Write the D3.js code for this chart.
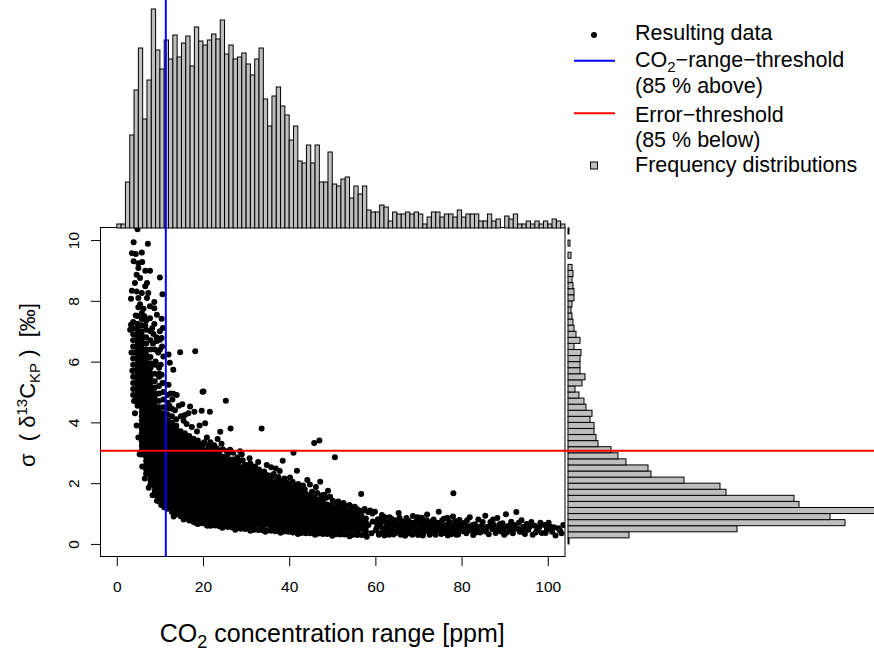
<!DOCTYPE html>
<html>
<head>
<meta charset="utf-8">
<script src="https://cdn.jsdelivr.net/npm/d3@7"></script>
<style>
  body { margin: 0; background: #fff; }
  svg { display: block; font-family: "Liberation Sans", Arial, Helvetica, sans-serif; }
</style>
</head>
<body>
<svg id="chart" width="874" height="651"></svg>
<script>
// frequency of CO2 ranges, 1 ppm bins starting at 0
const co2Counts = [4,4,46,93,138,180,109,148,219,178,159,188,169,193,171,185,192,162,201,187,
  183,188,194,189,208,174,183,169,171,175,164,153,169,180,129,102,132,141,122,113,
  88,102,67,65,83,65,83,46,46,76,44,42,49,51,30,42,34,42,18,16,
  16,23,21,7,16,14,14,16,14,16,14,4,11,16,16,11,14,14,11,18,
  11,14,14,14,7,7,14,7,9,0,12,9,14,4,4,7,4,7,4,7,4,9,7,4];
const co2BinWidth = 1;

// frequency of sigma values, 0.2 permil bins starting at 0
const sigmaCounts = [1,61,169,277,262,330,231,226,158,152,116,83,80,58,50,43,30,28,26,26,
  22,24,18,16,11,7,14,17,12,12,12,13,6,12,8,6,5,4,3,4,6,6,5,4,5,4,0,3,0,2,0,1];
const sigmaBinWidth = 0.2;

const co2Threshold = 11.37;
const errorThreshold = 3.07;

const xTicks = [0, 20, 40, 60, 80, 100];
const yTicks = [0, 2, 4, 6, 8, 10];

// dense part of the cloud, read column by column: [co2 range, [sigma values]]
const denseColumns = [
  [3.8, [4.9,5.1,5.3,5.5,5.7,5.9,6.1,6.3,6.5,6.7,6.9,7.1,7.3]],
  [4.8, [4.55,4.69,4.83,4.97,5.11,5.25,5.39,5.53,5.67,5.81,5.95,6.09,6.23,6.37,6.51,6.65,6.79,6.93,7.07,7.25,7.5]],
  [5.8, [2.94,3.08,3.22,3.36,3.50,3.64,3.78,3.92,4.06,4.20,4.34,4.48,4.62,4.76,4.90,5.04,5.18,5.32,5.46,5.60,5.74,5.88,6.02,6.16,6.30,6.44,6.58,6.72,6.86,7.0,7.2,7.4,7.6]],
  [6.8, [2.31,2.45,2.59,2.73,2.87,3.01,3.15,3.29,3.43,3.57,3.71,3.85,3.99,4.13,4.27,4.41,4.55,4.69,4.83,4.97,5.11,5.25,5.39,5.53,5.67,5.81,5.95,6.09,6.23,6.4,6.6,6.8,7.05,7.35]],
  [7.8, [1.96,2.10,2.24,2.38,2.52,2.66,2.80,2.94,3.08,3.22,3.36,3.50,3.64,3.78,3.92,4.06,4.20,4.34,4.48,4.62,4.76,4.90,5.04,5.18,5.32,5.46,5.60,5.78,5.95,6.15,6.4,6.7,7.0]],
  [8.8, [1.61,1.75,1.89,2.03,2.17,2.31,2.45,2.59,2.73,2.87,3.01,3.15,3.29,3.43,3.57,3.71,3.85,3.99,4.13,4.27,4.41,4.55,4.69,4.83,4.97,5.15,5.35,5.6,5.9,6.4]],
  [9.8, [1.40,1.54,1.68,1.82,1.96,2.10,2.24,2.38,2.52,2.66,2.80,2.94,3.08,3.22,3.36,3.50,3.64,3.78,3.92,4.06,4.20,4.34,4.5,4.7,4.95,5.2,5.5,5.8]],
  [10.8, [1.33,1.47,1.61,1.75,1.89,2.03,2.17,2.31,2.45,2.59,2.73,2.87,3.01,3.15,3.29,3.43,3.57,3.71,3.85,3.99,4.13,4.3,4.5,4.75,5.0,5.3]],
  [11.8, [1.16,1.26,1.40,1.54,1.68,1.82,1.96,2.10,2.24,2.38,2.52,2.66,2.80,2.94,3.08,3.22,3.36,3.50,3.64,3.78,3.92,4.06,4.25,4.45,4.65,4.9]],
  [12.8, [1.05,1.19,1.33,1.47,1.61,1.75,1.89,2.03,2.17,2.31,2.45,2.59,2.73,2.87,3.01,3.15,3.29,3.43,3.57,3.71,3.85,4.0,4.2,4.45]],
  [13.8, [0.98,1.12,1.26,1.40,1.54,1.68,1.82,1.96,2.10,2.24,2.38,2.52,2.66,2.80,2.94,3.08,3.22,3.36,3.50,3.64,3.78,3.9,4.1]],
  [14.8, [0.91,1.05,1.19,1.33,1.47,1.61,1.75,1.89,2.03,2.17,2.31,2.45,2.59,2.73,2.87,3.01,3.15,3.29,3.43,3.57,3.71]],
  [15.8, [0.84,0.98,1.12,1.26,1.40,1.54,1.68,1.82,1.96,2.10,2.24,2.38,2.52,2.66,2.80,2.94,3.08,3.22,3.36,3.50,3.64]],
  [16.8, [0.77,0.91,1.05,1.19,1.33,1.47,1.61,1.75,1.89,2.03,2.17,2.31,2.45,2.59,2.73,2.87,3.01,3.15,3.29,3.43,3.55]],
  [17.8, [0.72,0.84,0.98,1.12,1.26,1.40,1.54,1.68,1.82,1.96,2.10,2.24,2.38,2.52,2.66,2.80,2.94,3.08,3.22,3.36,3.46]],
  [18.8, [0.66,0.77,0.91,1.05,1.19,1.33,1.47,1.61,1.75,1.89,2.03,2.17,2.31,2.45,2.59,2.73,2.87,3.01,3.15,3.29,3.40]],
  [19.8, [0.68,0.84,0.98,1.12,1.26,1.40,1.54,1.68,1.82,1.96,2.10,2.24,2.38,2.52,2.66,2.80,2.94,3.08,3.22,3.30]],
  [20.8, [0.63,0.77,0.91,1.05,1.19,1.33,1.47,1.61,1.75,1.89,2.03,2.17,2.31,2.45,2.59,2.73,2.87,3.01,3.08]],
  [21.8, [0.60,0.70,0.84,0.98,1.12,1.26,1.40,1.54,1.68,1.82,1.96,2.10,2.24,2.38,2.52,2.66,2.80,2.94,3.02]],
  [22.8, [0.61,0.77,0.91,1.05,1.19,1.33,1.47,1.61,1.75,1.89,2.03,2.17,2.31,2.45,2.59,2.73,2.87,2.96]],
  [23.8, [0.58,0.70,0.84,0.98,1.12,1.26,1.40,1.54,1.68,1.82,1.96,2.10,2.24,2.38,2.52,2.66,2.80,2.92]],
  [24.8, [0.57,0.66,0.77,0.91,1.05,1.19,1.33,1.47,1.61,1.75,1.89,2.03,2.17,2.31,2.45,2.59,2.73,2.87]],
  [25.8, [0.56,0.70,0.84,0.98,1.12,1.26,1.40,1.54,1.68,1.82,1.96,2.10,2.24,2.38,2.52,2.66,2.80]],
  [26.8, [0.54,0.63,0.77,0.91,1.05,1.19,1.33,1.47,1.61,1.75,1.89,2.03,2.17,2.31,2.45,2.59,2.73,2.78]],
  [27.8, [0.52,0.62,0.70,0.84,0.98,1.12,1.26,1.40,1.54,1.68,1.82,1.96,2.10,2.24,2.38,2.52,2.60]],
  [28.8, [0.50,0.63,0.77,0.91,1.05,1.19,1.33,1.47,1.61,1.75,1.89,2.03,2.17,2.31,2.45,2.52]],
  [29.8, [0.49,0.56,0.70,0.84,0.98,1.12,1.26,1.40,1.54,1.68,1.82,1.96,2.10,2.24,2.38,2.44]],
  [30.8, [0.48,0.63,0.77,0.91,1.05,1.19,1.33,1.47,1.61,1.75,1.89,2.03,2.17,2.31,2.38]],
  [31.8, [0.47,0.56,0.70,0.84,0.98,1.12,1.26,1.40,1.54,1.68,1.82,1.96,2.10,2.24,2.30]],
  [32.8, [0.46,0.63,0.77,0.91,1.05,1.19,1.33,1.47,1.61,1.75,1.89,2.03,2.17,2.24]],
  [33.8, [0.45,0.56,0.70,0.84,0.98,1.12,1.26,1.40,1.54,1.68,1.82,1.96,2.10,2.18]],
  [34.8, [0.44,0.63,0.77,0.91,1.05,1.19,1.33,1.47,1.61,1.75,1.89,2.03,2.12]],
  [35.8, [0.43,0.56,0.70,0.84,0.98,1.12,1.26,1.40,1.54,1.68,1.82,1.96,2.06]],
  [36.8, [0.42,0.49,0.63,0.77,0.91,1.05,1.19,1.33,1.47,1.61,1.75,1.89,2.00]],
  [37.8, [0.42,0.56,0.70,0.84,0.98,1.12,1.26,1.40,1.54,1.68,1.82,1.96]],
  [38.8, [0.41,0.49,0.63,0.77,0.91,1.05,1.19,1.33,1.47,1.61,1.75,1.89]],
  [39.8, [0.40,0.56,0.70,0.84,0.98,1.12,1.26,1.40,1.54,1.68,1.82,1.88]],
  [40.8, [0.38,0.49,0.63,0.77,0.91,1.05,1.19,1.33,1.47,1.61,1.75,1.84]],
  [41.8, [0.37,0.42,0.56,0.70,0.84,0.98,1.12,1.26,1.40,1.54,1.68,1.78]],
  [42.8, [0.36,0.49,0.63,0.77,0.91,1.05,1.19,1.33,1.47,1.61,1.72]],
  [43.8, [0.35,0.42,0.56,0.70,0.84,0.98,1.12,1.26,1.40,1.54,1.66]],
  [44.8, [0.35,0.49,0.63,0.77,0.91,1.05,1.19,1.33,1.47,1.61]],
  [45.8, [0.34,0.42,0.56,0.70,0.84,0.98,1.12,1.26,1.40,1.54]],
  [46.8, [0.34,0.49,0.63,0.77,0.91,1.05,1.19,1.33,1.47]],
  [47.8, [0.33,0.42,0.56,0.70,0.84,0.98,1.12,1.26,1.40,1.46]],
  [48.8, [0.33,0.49,0.63,0.77,0.91,1.05,1.19,1.30]],
  [49.8, [0.32,0.42,0.56,0.70,0.84,0.98,1.12,1.26]],
  [50.8, [0.32,0.49,0.63,0.77,0.91,1.05,1.19]],
  [51.8, [0.31,0.42,0.56,0.70,0.84,0.98,1.12,1.18]],
  [52.8, [0.31,0.49,0.63,0.77,0.91,1.05,1.13]],
  [53.8, [0.30,0.42,0.56,0.70,0.84,0.98,1.08]],
  [54.8, [0.30,0.49,0.63,0.77,0.91,1.04]],
  [55.8, [0.29,0.42,0.56,0.70,0.84,0.98]],
  [56.8, [0.29,0.49,0.63,0.77,0.91]],
  [57.8, [0.28,0.42,0.56,0.70,0.84]]
];

// single points around the dense cloud: [co2 range, sigma]
const loosePoints = [
  [4.8,10.36],[3.9,9.93],[7.2,9.88],[3.5,9.57],[4.4,9.54],[5.8,9.59],[3.9,9.30],[5.0,9.24],[5.9,9.28],
  [5.0,9.08],[6.6,8.99],[7.7,8.99],[4.6,8.86],[5.4,8.75],[10.0,8.77],[4.2,8.59],[7.0,8.59],[6.6,8.48],
  [3.5,8.33],[4.6,8.31],[5.8,8.26],[7.3,8.26],[10.6,8.22],[3.3,8.07],[5.0,8.09],[7.0,8.09],[5.4,7.89],
  [8.7,7.96],[5.0,7.79],[6.2,7.74],[7.7,7.82],[8.7,7.76],[4.4,7.52],[6.4,7.49],[7.7,7.43],[9.3,7.54],
  [10.4,7.41],[3.3,7.21],[5.0,7.21],[6.6,7.19],[8.7,7.24],[3.1,7.05],[10.7,7.11],[8.5,6.91],[10.0,6.72],
  [9.3,6.68],[9.0,6.0],[9.6,6.3],[10.2,5.9],[10.5,6.5],[9.2,6.8],[10.0,7.0],[8.4,6.6],[9.9,5.6],
  [10.6,5.3],[8.2,7.1],[10.4,6.78],[10.0,6.39],[10.8,6.17],[10.4,5.57],[3.4,6.3],[3.6,5.7],[4.0,4.7],
  [4.2,4.3],[12.0,5.24],[12.0,6.23],[13.1,5.73],[12.3,5.96],[14.7,6.31],[18.2,6.34],[20.1,5.02],[13.1,4.94],
  [12.2,4.55],[12.9,4.75],[13.5,4.4],[12.5,4.95],[13.9,4.9],[14.4,4.55],[14.9,4.2],[15.5,4.05],[15.2,4.6],
  [16.2,3.95],[16.6,4.3],[17.0,4.52],[18.0,4.35],[19.7,4.38],[21.6,4.35],[15.8,4.24],[20.5,3.97],[17.4,3.85],
  [18.6,3.7],[19.2,3.9],[20.9,3.5],[21.7,3.35],[22.6,3.25],[23.4,3.45],[24.0,3.69],[26.4,3.80],[33.6,3.80],
  [25.3,4.71],[19.9,5.01],[23.2,3.15],[24.6,3.12],[25.5,3.05],[27.0,3.0],[28.0,2.85],[29.2,2.75],[30.2,2.6],
  [31.0,2.65],[32.1,2.55],[33.0,2.45],[34.2,2.38],[35.8,2.52],[36.4,2.3],[37.5,2.2],[38.5,2.74],[38.9,2.15],
  [40.2,2.19],[41.0,3.0],[41.8,2.41],[42.1,1.97],[43.2,1.92],[44.8,1.96],[45.8,3.32],[46.2,1.87],[47.0,3.40],
  [47.2,2.05],[48.2,1.62],[49.5,1.55],[50.6,2.85],[51.4,1.4],[52.6,1.35],[54.0,1.28],[55.2,1.22],[56.7,1.64],
  [57.5,1.15],[58.8,1.1],[78.1,1.67],[28.6,3.05],[30.8,2.82],[34.8,2.6],[36.9,2.48],
  [20.3,3.35],[21.2,3.22],[22.0,3.18],[22.9,3.1],[23.9,3.05],[24.3,3.3],[25.8,2.98],[26.3,3.1],[27.4,2.78],
  [28.3,2.7],[29.0,2.95],[29.7,2.6],[30.5,2.55],[31.5,2.48],[32.4,2.42],[32.8,2.7],[33.5,2.35],[34.6,2.28],
  [35.3,2.25],[36.0,2.2],[37.2,2.12],[37.8,2.4],[38.3,2.06],[39.4,2.02],[40.0,1.98],[40.8,2.05],[41.5,1.92],
  [42.7,1.85],[43.6,1.8],[44.2,2.1],[45.3,1.72],[46.5,1.68],[47.6,1.6],[48.6,1.52],[49.0,1.75],[50.1,1.42],
  [51.0,1.36],[52.0,1.3],[53.1,1.25],[54.4,1.2],[55.7,1.15],[56.3,1.1],[57.0,1.08],[58.3,1.05],[59.3,1.0],
  [59.9,1.06],
  [4.6,3.9],[5.0,3.5],[5.3,2.95],[5.9,2.55],[6.5,2.15],[7.4,1.85],[8.3,1.6],[9.3,1.42],[10.3,1.28],[11.0,1.2],
  [13.2,0.9],[15.5,0.8],[18.5,0.68],[21.0,0.6],[24.5,0.53],[27.5,0.47],[31.0,0.43],[34.5,0.4],[38.0,0.37],
  [42.0,0.33],[46.0,0.3],[50.0,0.27],[54.0,0.25],[58.0,0.24],
  [58.4,0.62],[59.1,0.35],[59.4,0.74],[60.1,0.45],[60.4,0.66],[60.8,0.30],[61.0,0.58],[61.4,0.80],[61.6,0.38],
  [62.0,0.52],[62.2,0.88],[62.6,0.42],[62.9,0.70],[63.2,0.30],[63.5,0.60],[63.8,0.82],[64.0,0.44],[64.4,0.62],
  [64.7,0.36],[65.0,0.72],[65.3,0.50],[65.6,0.86],[65.9,0.30],[66.2,0.58],[66.5,0.40],[66.8,0.66],[67.0,0.52],
  [67.4,0.34],[67.7,0.76],[68.0,0.48],[68.3,0.58],[68.6,0.30],[68.9,0.70],[69.2,0.62],[69.5,0.46],[69.8,0.88],
  [70.1,0.40],[70.4,0.72],[70.7,0.55],[71.0,0.28],[71.3,0.62],[71.6,0.44],[71.9,0.78],[72.2,0.52],[72.5,0.66],
  [72.8,0.36],[73.1,0.74],[73.4,0.42],[73.7,0.60],[74.0,0.30],[74.3,0.70],[74.6,0.52],[75.2,0.45],[75.5,0.78],
  [75.8,0.36],[76.1,0.60],[76.4,0.48],[76.7,0.86],[77.0,0.40],[77.3,0.64],[77.6,0.32],[78.2,0.56],[78.5,0.75],
  [78.8,0.30],[79.1,0.62],[79.4,0.44],[80.0,0.66],[80.5,0.52],[81.3,0.78],[81.7,0.44],[82.5,0.62],[83.3,0.38],
  [84.0,0.56],[84.9,0.72],[85.7,0.40],[86.5,0.58],[87.3,0.80],[88.1,0.45],[88.9,0.66],[89.7,0.52],[90.5,0.38],
  [91.3,0.62],[92.1,0.48],[93.3,0.70],[94.1,0.40],[95.3,0.52],[96.2,0.72],[97.2,0.38],[98.3,0.70],[99.5,0.36],
  [100.2,0.70],[101.4,0.55],[102.8,0.45],
  [60.3,0.52],[60.6,0.81],[60.9,0.34],[61.2,0.66],[61.5,0.95],[61.8,0.45],[62.1,0.28],[62.4,0.72],[62.7,0.58],
  [63.0,0.38],[63.3,0.88],[63.6,0.49],[63.9,0.65],[64.2,0.31],[64.5,0.78],[64.8,0.55],[65.1,0.42],[65.4,1.02],
  [65.7,0.62],[66.0,0.36],[66.3,0.74],[66.6,0.50],[66.9,0.27],[67.2,0.85],[67.5,0.60],[67.8,0.44],[68.1,0.69],
  [68.4,0.33],[68.7,0.92],[69.0,0.54],[69.3,0.40],[69.6,0.76],[69.9,0.29],[70.2,0.63],[70.5,0.48],[70.8,0.86],
  [71.1,0.36],[71.4,0.70],[71.7,0.56],[72.0,0.97],[72.3,0.42],[72.6,0.30],[72.9,0.64],[73.2,0.51],[73.5,0.80],
  [73.8,0.37],[74.1,0.58],[74.4,0.45],[74.7,1.06],[75.0,0.68],[75.3,0.33],[75.6,0.53],[75.9,0.83],[76.2,0.41],
  [76.5,0.62],[76.8,0.28],[77.1,0.74],[77.4,0.49],[77.7,0.58],[78.0,0.90],[78.3,0.38],[78.6,0.67],[78.9,0.46],
  [79.2,0.31],[79.5,0.79],[79.8,0.55],[80.3,0.42],[80.7,0.70],[81.1,0.35],[81.5,0.58],[81.9,0.88],[82.3,0.47],
  [82.7,0.29],[83.1,0.65],[83.5,0.52],[83.9,0.80],[84.3,0.38],[84.7,0.60],[85.1,0.44],[85.5,0.93],[85.9,0.56],
  [86.3,0.32],[86.7,0.72],[87.1,0.49],[87.5,0.62],[87.9,0.36],[88.3,0.85],[88.7,0.54],[89.1,0.41],[89.5,0.68],
  [89.9,0.30],[90.3,0.98],[90.7,0.58],[91.1,0.45],[91.5,0.73],[91.9,0.35],[92.3,0.62],[92.7,1.05],[93.1,0.50],
  [93.5,0.40],[93.9,0.78],[94.3,0.56],[94.7,0.33],[95.1,0.66],[95.5,0.47],[95.9,0.58],[96.5,0.30],[97.0,0.60],
  [97.5,0.43],[98.0,0.55],[98.6,0.36],[99.2,0.62],[99.8,0.48],[100.5,0.57],[101.0,0.40],[101.8,0.28],
  [102.4,0.52],[103.2,0.35],[103.6,0.62]
];

const legendLabels = ["Resulting data", "CO2-range-threshold", "(85 % above)", "Error\u2212threshold", "(85 % below)", "Frequency distributions"];

const svg = d3.select("#chart");

const x = d3.scaleLinear().domain([-3.9, 104]).range([100, 565]);
const y = d3.scaleLinear().domain([-0.43, 10.43]).range([557, 227]);
const topHistY = d3.scaleLinear().domain([0, 220]).range([228, 8]);
const sideHistX = d3.scaleLinear().domain([0, 306]).range([568, 874]);

const points = [];
denseColumns.forEach(col => col[1].forEach(v => points.push([col[0], v])));
loosePoints.forEach(p => points.push(p));

// scatter, clipped to the plot region like R does
svg.append("clipPath").attr("id", "plotClip")
  .append("rect").attr("x", 100).attr("y", 227).attr("width", 465).attr("height", 330);

svg.append("g")
  .attr("clip-path", "url(#plotClip)")
  .selectAll("circle")
  .data(points)
  .join("circle")
  .attr("cx", d => x(d[0]))
  .attr("cy", d => y(d[1]))
  .attr("r", 3.0)
  .attr("fill", "#000");

svg.append("rect")
  .attr("x", 100.5).attr("y", 227.5).attr("width", 464.5).attr("height", 329)
  .attr("fill", "none").attr("stroke", "#000").attr("stroke-width", 1);

// axes
const xAxis = svg.append("g")
  .attr("transform", "translate(0,557)")
  .call(d3.axisBottom(x).tickValues(xTicks).tickSize(9).tickFormat(d3.format("d")));
xAxis.select(".domain").remove();
xAxis.selectAll("text")
  .attr("y", 35).attr("dy", null)
  .style("font-size", "15.5px").style("font-family", "Liberation Sans, Arial, sans-serif");

const yAxis = svg.append("g")
  .attr("transform", "translate(100,0)")
  .call(d3.axisLeft(y).tickValues(yTicks).tickSize(9).tickFormat(d3.format("d")));
yAxis.select(".domain").remove();
yAxis.selectAll("text")
  .attr("x", 0).attr("dy", null)
  .attr("text-anchor", "middle")
  .attr("transform", "translate(-21,0) rotate(-90)")
  .style("font-size", "15.5px").style("font-family", "Liberation Sans, Arial, sans-serif");

// axis titles
const xTitle = svg.append("text")
  .attr("x", x(50)).attr("y", 642)
  .attr("text-anchor", "middle")
  .style("font-size", "25px");
xTitle.append("tspan").text("CO");
xTitle.append("tspan").attr("dy", 6).style("font-size", "18px").text("2");
xTitle.append("tspan").attr("dy", -6).text(" concentration range [ppm]");

const yTitle = svg.append("text")
  .attr("transform", "translate(35,385) rotate(-90)")
  .attr("text-anchor", "middle")
  .style("font-size", "22px")
  .style("white-space", "pre");
yTitle.append("tspan").text("\u03c3  ( \u03b4");
yTitle.append("tspan").attr("dy", -8).style("font-size", "15px").text("13");
yTitle.append("tspan").attr("dy", 8).text("C");
yTitle.append("tspan").attr("dy", 5).style("font-size", "15px").text("KP");
yTitle.append("tspan").attr("dy", -5).text(" )  [\u2030]");

// top histogram
svg.append("g")
  .selectAll("rect")
  .data(co2Counts)
  .join("rect")
  .attr("x", (d, i) => x(i * co2BinWidth))
  .attr("width", (d, i) => x((i + 1) * co2BinWidth) - x(i * co2BinWidth))
  .attr("y", d => topHistY(d))
  .attr("height", d => topHistY(0) - topHistY(d))
  .attr("fill", "#bebebe")
  .attr("stroke", "#000")
  .attr("stroke-width", 1);

// side histogram
svg.append("g")
  .selectAll("rect")
  .data(sigmaCounts)
  .join("rect")
  .attr("x", sideHistX(0))
  .attr("y", (d, i) => y((i + 1) * sigmaBinWidth))
  .attr("height", (d, i) => y(i * sigmaBinWidth) - y((i + 1) * sigmaBinWidth))
  .attr("width", d => sideHistX(d) - sideHistX(0))
  .attr("fill", "#bebebe")
  .attr("stroke", "#000")
  .attr("stroke-width", 1);

// thresholds
svg.append("line")
  .attr("x1", x(co2Threshold)).attr("x2", x(co2Threshold))
  .attr("y1", 0).attr("y2", 557)
  .attr("stroke", "#0000ff").attr("stroke-width", 2);

svg.append("line")
  .attr("x1", 100).attr("x2", 874)
  .attr("y1", y(errorThreshold)).attr("y2", y(errorThreshold))
  .attr("stroke", "#ff0000").attr("stroke-width", 2);

// legend
const legend = svg.append("g").style("font-size", "21.5px");
const baselines = [40, 66.7, 93, 121.7, 146.7, 171.7];

legend.append("circle").attr("cx", 594).attr("cy", 35).attr("r", 3.0).attr("fill", "#000");
legend.append("line").attr("x1", 574).attr("x2", 615).attr("y1", 60.7).attr("y2", 60.7)
  .attr("stroke", "#0000ff").attr("stroke-width", 2);
legend.append("line").attr("x1", 574).attr("x2", 615).attr("y1", 113.3).attr("y2", 113.3)
  .attr("stroke", "#ff0000").attr("stroke-width", 2);
legend.append("rect").attr("x", 590.5).attr("y", 162).attr("width", 7).attr("height", 7)
  .attr("fill", "#bebebe").attr("stroke", "#000").attr("stroke-width", 1);

legendLabels.forEach((label, i) => {
  const t = legend.append("text").attr("x", 635).attr("y", baselines[i]);
  if (label.startsWith("CO2")) {
    t.append("tspan").text("CO");
    t.append("tspan").attr("dy", 5).style("font-size", "15px").text("2");
    t.append("tspan").attr("dy", -5).text("\u2212range\u2212threshold");
  } else {
    t.text(label);
  }
});
</script>
</body>
</html>
